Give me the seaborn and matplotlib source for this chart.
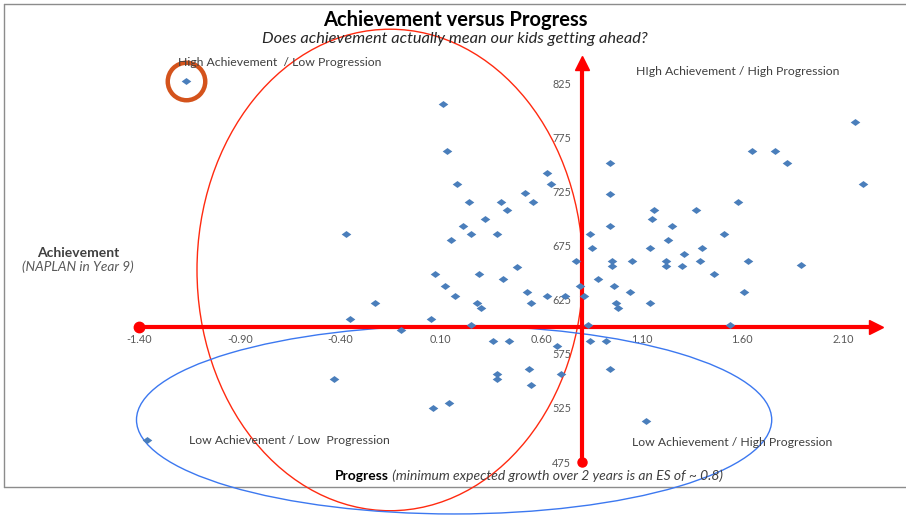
import seaborn as sns
import matplotlib.pyplot as plt
from matplotlib.patches import Ellipse
from matplotlib.lines import Line2D

# progress (effect size over 2 years) and achievement (NAPLAN Year 9)
progress = [-1.17, -0.37, 0.11, 0.13, 0.18, 0.24, 0.40, 0.43, 0.52, 0.56,
            0.63, 0.65, 0.32, 0.21, 0.25, 0.38, 0.15, 0.84, 0.85, 0.94,
            0.94, 0.94, 2.16, 1.65, 1.76, 1.82, 2.20, 1.58, 1.16, 1.15,
            1.37, 1.25, 1.51, 1.23, 1.14, 1.40, 1.31, 0.07, 0.29, 0.48,
            0.12, 0.41, 0.53, 0.17, 0.28, 0.30, 0.55, 0.63, 0.72, 0.79,
            0.77, 0.88, 0.81, 0.95, 0.95, 0.96, 0.97, 0.98, 1.04, 0.05,
            0.25, -0.10, 0.83, 0.36, 0.44, 0.68, 0.84, 0.92, 0.54, 0.38,
            0.38, 0.70, 0.55, 0.94, 0.06, 0.14, -0.23, -0.35, -0.43, -1.36,
            1.14, 1.22, 1.22, 1.30, 1.39, 1.46, 1.63, 1.61, 1.89, 1.54,
            1.12, 1.05]
achievement = [827, 686, 806, 762, 732, 715, 715, 708, 724, 715,
               742, 732, 700, 693, 686, 686, 680, 686, 673, 751,
               723, 693, 789, 762, 762, 751, 732, 715, 708, 700,
               708, 693, 686, 680, 673, 673, 667, 649, 649, 655,
               638, 644, 632, 628, 622, 617, 622, 628, 628, 638,
               661, 644, 628, 661, 656, 638, 622, 617, 632, 607,
               602, 597, 602, 587, 587, 582, 587, 587, 561, 556,
               552, 556, 546, 561, 525, 530, 622, 607, 552, 495,
               622, 656, 661, 656, 661, 649, 661, 632, 657, 602,
               513, 661]
highlight = 0  # the circled student

x_ticks = [-1.40, -0.90, -0.40, 0.10, 0.60, 1.10, 1.60, 2.10]
y_ticks = [475, 525, 575, 625, 675, 725, 775, 825]
x_cross = 0.8   # expected growth
y_cross = 600

W, H = 906, 517
RED = "#FF0000"


def px(x, y):
    # figure fraction from pixel position (origin top left)
    return x / W, 1 - y / H


sns.set_style("white")
plt.rcParams["font.family"] = ["Lato", "DejaVu Sans"]

fig = plt.figure(figsize=(W / 100, H / 100), dpi=100)
ax = fig.add_axes([0, 0, 1, 1])
ax.patch.set_visible(False)
ax.set_xlim(-2.093, 2.414)
ax.set_ylim(424.2, 902.0)

# frame of the original screenshot
for xs, ys in [([4, W], [4, 4]), ([4, 4], [4, 487]), ([4, W], [487, 487])]:
    fig.add_artist(Line2D([x / W for x in xs], [1 - y / H for y in ys],
                          color="#8c8c8c", lw=1, zorder=-1))

# red cross axes
for side in ["top", "right"]:
    ax.spines[side].set_visible(False)
ax.spines["left"].set_position(("data", x_cross))
ax.spines["bottom"].set_position(("data", y_cross))
for side in ["left", "bottom"]:
    ax.spines[side].set_color(RED)
    ax.spines[side].set_linewidth(3.0)
ax.spines["bottom"].set_bounds(x_ticks[0], 2.24)
ax.spines["left"].set_bounds(y_ticks[0], 836)
ax.plot(2.265, y_cross, marker=">", ms=10, color=RED, clip_on=False)
ax.plot(x_cross, 844, marker="^", ms=10, color=RED, clip_on=False)
ax.plot(x_ticks[0], y_cross, marker="o", ms=7.5, color=RED, clip_on=False)
ax.plot(x_cross, y_ticks[0], marker="o", ms=6.5, color=RED, clip_on=False)

ax.set_xticks(x_ticks)
ax.set_xticklabels([f"{t:.2f}" for t in x_ticks])
ax.set_yticks(y_ticks)
ax.tick_params(axis="both", colors=RED, labelcolor="#595959", labelsize=7.8,
               length=2.5, width=1.5, direction="out")
ax.tick_params(axis="x", pad=3)
ax.tick_params(axis="y", pad=5)

# data points
diamond = [(-1, 0), (0, 0.72), (1, 0), (0, -0.72), (-1, 0)]
sns.scatterplot(x=progress, y=achievement, marker=diamond, s=48,
                color="#4A7EBB", linewidth=0, ax=ax, zorder=3, clip_on=False)

ax.plot(progress[highlight], achievement[highlight], marker="o", ms=27,
        mfc="none", mec="#D4531C", mew=3.2, zorder=4)

# hand drawn groupings
ax.add_patch(Ellipse((-0.153, 652.5), 1.92, 445, fill=False, ec="#FF2A10",
                     lw=1.0, zorder=2, clip_on=False))
ax.add_patch(Ellipse((0.166, 514), 3.16, 174, fill=False, ec="#3C78F0",
                     lw=1.0, zorder=2, clip_on=False))

# titles
fig.text(*px(455, 20), "Achievement versus Progress", ha="center", va="center",
         fontsize=14.5, fontweight="bold", color="black")
fig.text(*px(455, 39), "Does achievement actually mean our kids getting ahead?",
         ha="center", va="center", fontsize=11.8, style="italic", color="#262626")

quad = dict(ha="left", va="center", fontsize=8.8, color="#404040")
fig.text(*px(178, 63), "High Achievement  / Low Progression", **quad)
fig.text(*px(636, 71), "HIgh Achievement / High Progression", **quad)
fig.text(*px(189, 440), "Low Achievement / Low  Progression", **quad)
fig.text(*px(632, 443), "Low Achievement / High Progression", **quad)

fig.text(*px(78, 253), "Achievement", ha="center", va="center",
         fontsize=10, fontweight="bold", color="#404040")
fig.text(*px(78, 267), "(NAPLAN in Year 9)", ha="center", va="center",
         fontsize=9.8, style="italic", color="#595959")

prog = fig.text(*px(335, 476), "Progress", ha="left", va="center",
                fontsize=10, fontweight="bold", color="black")
ax.annotate(" (minimum expected growth over 2 years is an ES of ~ 0.8)",
            xy=(1, 0.5), xycoords=prog, ha="left", va="center",
            fontsize=10, style="italic", color="#404040")

fig.savefig("out.png", dpi=100)
